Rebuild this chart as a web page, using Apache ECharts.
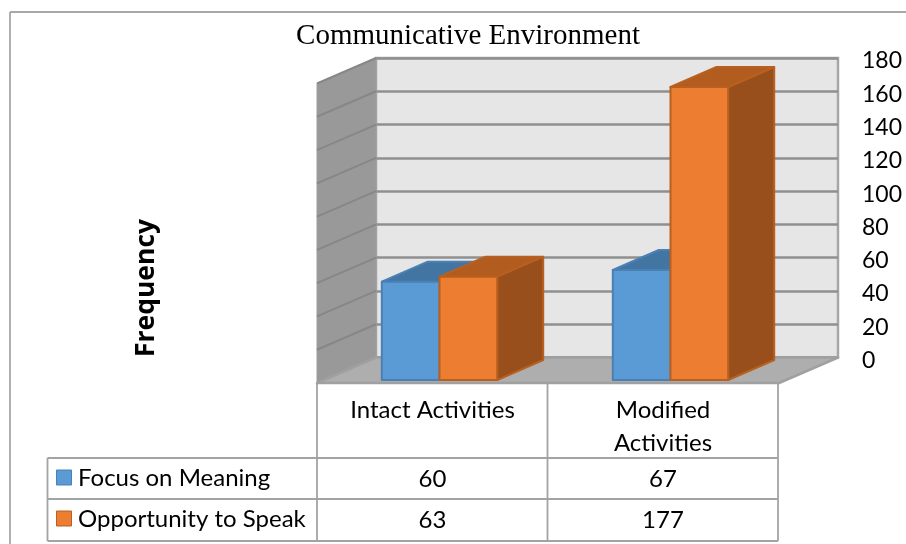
<!DOCTYPE html>
<html>
<head>
<meta charset="utf-8">
<style>html,body{margin:0;padding:0;background:#fff}#chart{width:906px;height:544px}</style>
<script src="https://cdn.jsdelivr.net/npm/echarts@6/dist/echarts.min.js"></script>
</head>
<body>
<div id="chart"></div>
<script>
const categories = ['Intact Activities', 'Modified Activities'];
const categoryLines = [['Intact Activities'], ['Modified', 'Activities']];
const focusOnMeaning = [60, 67];
const opportunityToSpeak = [63, 177];
const valueTicks = [0, 20, 40, 60, 80, 100, 120, 140, 160, 180];

const uiFont = 'Lato, Carlito, sans-serif';
const lineGray = '#a3a3a3';
const blue = { front: '#5b9bd5', top: '#4375a3', side: '#3f6f9b', border: '#4a80b4' };
const orange = { front: '#ed7d31', top: '#b35c20', side: '#984f1c', border: '#b8601f' };

const chart = echarts.init(document.getElementById('chart'));

// 3d look: walls are shifted from the back plane by this many pixels
const wallDx = -59, wallDy = 25.5;
const barWidth = 57.7, barDx = 46, barDy = -20;

function renderWalls(params, api) {
  const cs = params.coordSys;
  const x0 = cs.x, x1 = cs.x + cs.width;
  const y0 = api.coord([0, 180])[1], yB = api.coord([0, 0])[1];
  const kids = [
    { type: 'polygon', shape: { points: [[x0, y0], [x0, yB], [x0 + wallDx, yB + wallDy], [x0 + wallDx, y0 + wallDy]] },
      style: { fill: '#999999', stroke: '#9d9d9d', lineWidth: 1, lineJoin: 'round' } },
    { type: 'polygon', shape: { points: [[x0, yB], [x1, yB], [x1 + wallDx, yB + wallDy], [x0 + wallDx, yB + wallDy]] },
      style: { fill: '#aeaeae', stroke: '#a0a0a0', lineWidth: 2.5, lineJoin: 'round' } }
  ];
  valueTicks.slice(1).forEach(v => {
    const y = api.coord([0, v])[1];
    kids.push({ type: 'line', shape: { x1: x0, y1: y, x2: x0 + wallDx, y2: y + wallDy },
      style: { stroke: '#878787', lineWidth: 2 } });
  });
  return { type: 'group', children: kids };
}

function barRenderer(colors, shift) {
  return function (params, api) {
    const cat = api.value(0), val = api.value(1);
    const center = api.coord([cat, 0])[0] - 52;
    const left = center + shift * barWidth;
    const right = left + barWidth;
    const bottom = api.coord([cat, 0])[1] + 22.5;
    const top = api.coord([cat, val])[1] + 24;
    const box = (pts, fill) => ({ type: 'polygon', shape: { points: pts },
      style: { fill: fill, stroke: colors.border, lineWidth: 2, lineJoin: 'round' } });
    return { type: 'group', children: [
      box([[right, bottom], [right + barDx, bottom + barDy], [right + barDx, top + barDy], [right, top]], colors.side),
      box([[left, top], [right, top], [right + barDx, top + barDy], [left + barDx, top + barDy]], colors.top),
      box([[left, top], [right, top], [right, bottom], [left, bottom]], colors.front)
    ] };
  };
}

// frame and data table
const tableLines = [
  [10, 12, 906, 12, '#a8a8a8'], [10, 12, 10, 544, '#a8a8a8'],
  [317, 383, 317, 541], [547.5, 383, 547.5, 541], [778, 383, 778, 458],
  [778, 458, 778, 541], [47.5, 458, 47.5, 541],
  [47.5, 458, 778, 458], [47.5, 499, 778, 499], [47.5, 541, 778, 541]
];
const graphics = tableLines.map(l => ({
  type: 'line', shape: { x1: l[0], y1: l[1], x2: l[2], y2: l[3] },
  style: { stroke: l[4] || lineGray, lineWidth: 1.8 }, silent: true
}));

function tableText(text, x, y, align) {
  return { type: 'text', x: x, y: y,
    style: { text: text, font: '24px ' + uiFont, fill: '#000', align: align || 'center', verticalAlign: 'middle' } };
}
const colCenters = [432.5, 663];
categoryLines.forEach((lines, i) => {
  lines.forEach((t, j) => graphics.push(tableText(t, colCenters[i], 410 + j * 33)));
});
[['Focus on Meaning', focusOnMeaning, blue, 478], ['Opportunity to Speak', opportunityToSpeak, orange, 519]].forEach(row => {
  graphics.push({ type: 'rect', shape: { x: 56.5, y: row[3] - 8, width: 15, height: 15 },
    style: { fill: row[2].front, stroke: row[2].border, lineWidth: 1 } });
  graphics.push(tableText(row[0], 78, row[3], 'left'));
  row[1].forEach((v, i) => graphics.push(tableText(String(v), colCenters[i], row[3] + 1)));
});
graphics.push({ type: 'text', x: 146, y: 288, rotation: Math.PI / 2,
  style: { text: 'Frequency', font: 'bold 26.5px "Open Sans", sans-serif', fill: '#000', align: 'center', verticalAlign: 'middle' } });

chart.setOption({
  animation: false,
  backgroundColor: '#fff',
  title: { text: 'Communicative Environment', left: 463, top: 17, textAlign: 'center',
    textStyle: { fontFamily: '"Liberation Serif", serif', fontSize: 29, fontWeight: 'normal', color: '#000' } },
  grid: { left: 376, right: 68, top: 58, bottom: 186.5, show: true, backgroundColor: '#e6e6e6', borderColor: '#a6a6a6', borderWidth: 2.5 },
  xAxis: { type: 'category', data: categories, axisLine: { show: false }, axisTick: { show: false }, axisLabel: { show: false } },
  yAxis: { type: 'value', position: 'right', min: 0, max: 180, interval: 20,
    axisLine: { show: false }, axisTick: { show: false },
    axisLabel: { margin: 24, formatter: '{t|{value}}',
      rich: { t: { fontFamily: uiFont, fontSize: 23, color: '#000', padding: [6, 0, 0, 0] } } },
    splitLine: { show: true, lineStyle: { color: '#8f8f8f', width: 2.5 } } },
  graphic: graphics,
  series: [
    { type: 'custom', silent: true, z: 1, data: [[0, 0]], renderItem: renderWalls },
    { type: 'custom', name: 'Focus on Meaning', z: 2, renderItem: barRenderer(blue, -1),
      encode: { x: 0, y: 1 }, data: focusOnMeaning.map((v, i) => [i, v]) },
    { type: 'custom', name: 'Opportunity to Speak', z: 3, renderItem: barRenderer(orange, 0),
      encode: { x: 0, y: 1 }, data: opportunityToSpeak.map((v, i) => [i, v]) }
  ]
});
</script>
</body>
</html>
